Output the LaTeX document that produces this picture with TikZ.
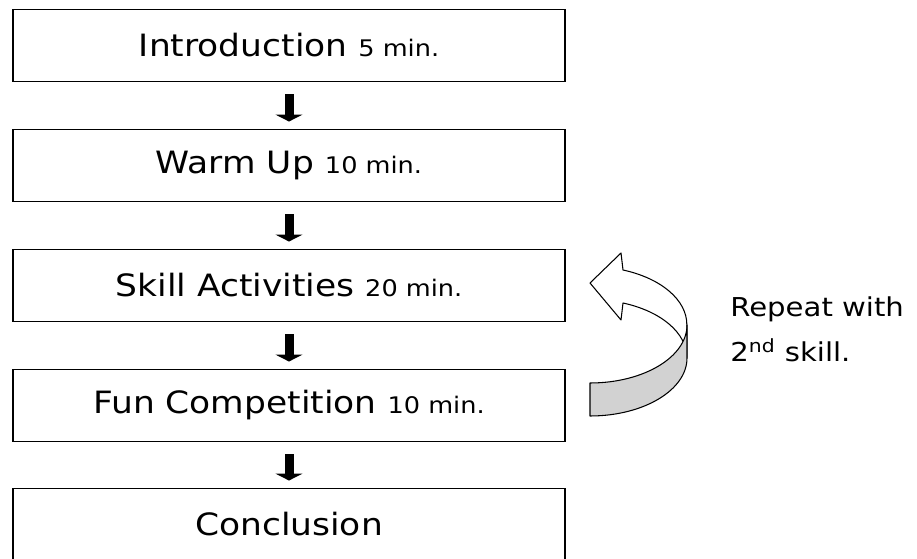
\documentclass[tikz,border=0pt]{standalone}
\usepackage{fontspec}
\setmainfont{DejaVu Sans}[FakeStretch=1.12]
\usepackage{tikz}
\usetikzlibrary{arrows.meta}

\newcommand{\mintext}[1]{{\fontsize{13}{15}\selectfont #1 min.}}

\begin{document}
\begin{tikzpicture}[stage/.style={draw, line width=0.8pt, minimum width=11.04cm, minimum height=1.45cm, inner sep=0pt, font=\fontsize{17.5}{20}\selectfont},
	blockarrow/.style={line width=0.18cm, -{Triangle[width=0.54cm, length=0.14cm]}, shorten <=0.24cm, shorten >=0.14cm},
	ribbon/.style={draw, line width=0.6pt, line join=round}]
	\useasboundingbox (0,0) rectangle (18.34,11.18);
	\node[stage] (intro) at (5.78,10.27) {Introduction \mintext{5}};
	\node[stage] (warm) at (5.78,7.87) {Warm Up \mintext{10}};
	\node[stage] (skill) at (5.78,5.47) {Skill Activities \mintext{20}};
	\node[stage] (fun) at (5.78,3.07) {Fun Competition \mintext{10}};
	\node[stage] (concl) at (5.78,0.69) {Conclusion};
	\draw[blockarrow] (intro) -- (warm);
	\draw[blockarrow] (warm) -- (skill);
	\draw[blockarrow] (skill) -- (fun);
	\draw[blockarrow] (fun) -- (concl);
	% curved arrow, light face first, then the grey back of the band
	\draw[ribbon, fill=white] (11.80,5.52) -- (12.42,6.12) -- (12.46,5.78)
	  arc[start angle=70, end angle=0, x radius=1.94, y radius=1.16] -- ++(0,-0.66)
	  arc[start angle=0, end angle=70, x radius=1.94, y radius=1.16] -- (12.42,4.78) -- cycle;
	\draw[ribbon, fill=gray!35] (13.74,4.68)
	  arc[start angle=0, end angle=-90, x radius=1.94, y radius=1.16] -- ++(0,-0.66)
	  arc[start angle=-90, end angle=0, x radius=1.94, y radius=1.16] -- cycle;
	\node[anchor=north west, align=left, inner sep=0pt, font=\fontsize{14.8}{26}\selectfont] (note) at (14.6,5.26) {Repeat with\\2\textsuperscript{nd} skill.};
\end{tikzpicture}
\end{document}
